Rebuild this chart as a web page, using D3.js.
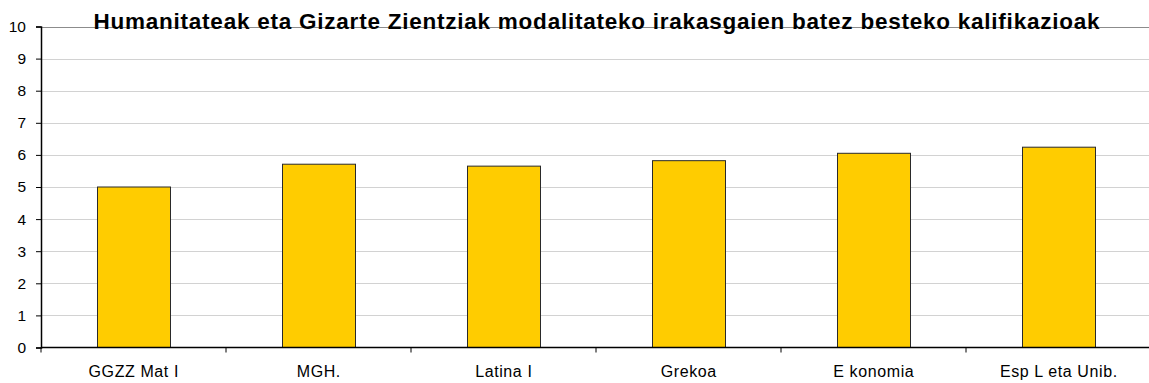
<!DOCTYPE html>
<html>
<head>
<meta charset="utf-8">
<script src="https://cdn.jsdelivr.net/npm/d3@7"></script>
<style>
  html, body { margin: 0; padding: 0; background: #fff; }
  svg { display: block; font-family: "Liberation Sans", Arial, sans-serif; }
</style>
</head>
<body>
<svg id="chart" width="1149" height="383"></svg>
<script>
const categories = ["GGZZ Mat I", "MGH.", "Latina I", "Grekoa", "E konomia", "Esp L eta Unib."];
const averages = [5.0, 5.71, 5.65, 5.82, 6.05, 6.24];
const yTicks = [0, 1, 2, 3, 4, 5, 6, 7, 8, 9, 10];
const title = "Humanitateak eta Gizarte Zientziak modalitateko irakasgaien batez besteko kalifikazioak";

const svg = d3.select("#chart");
const plotLeft = 41, plotRight = 1151, plotTop = 26.5, plotBottom = 347.5;

const x = d3.scaleBand().domain(categories).range([plotLeft, plotRight]).paddingInner(0.605).paddingOuter(0.3025);
const y = d3.scaleLinear().domain([0, 10]).range([plotBottom, plotTop]);

// horizontal gridlines (the top one doubles as the plot frame)
svg.append("g").selectAll("line").data(yTicks.filter(d => d > 0)).join("line")
  .attr("x1", plotLeft).attr("x2", plotRight)
  .attr("y1", d => Math.round(y(d)) + 0.5).attr("y2", d => Math.round(y(d)) + 0.5)
  .attr("stroke", d => d === 10 ? "#8c8c8c" : "#d2d2d2").attr("stroke-width", 1);

// bars
svg.append("g").selectAll("rect").data(categories).join("rect")
  .attr("x", d => Math.round(x(d)) + 0.5)
  .attr("y", (d, i) => y(averages[i]))
  .attr("width", Math.round(x.bandwidth()))
  .attr("height", (d, i) => plotBottom - y(averages[i]))
  .attr("fill", "#ffcc00").attr("stroke", "#2a2a2a").attr("stroke-width", 1);

// y axis
const yAxis = svg.append("g").attr("transform", `translate(${plotLeft},0)`)
  .call(d3.axisLeft(y).tickValues(yTicks).tickSize(5).tickPadding(10));
yAxis.select(".domain").attr("stroke", "#000").attr("stroke-width", 1.5);
yAxis.selectAll(".tick line").attr("stroke", "#000");
yAxis.selectAll("text").attr("font-size", 15.5).attr("fill", "#000")
  .attr("font-family", "Liberation Sans, Arial, sans-serif");

// x axis with ticks between categories
const xb = d3.scaleLinear().domain([0, categories.length]).range([plotLeft, plotRight]);
const xAxis = svg.append("g").attr("transform", `translate(0,${plotBottom})`);
xAxis.append("line").attr("x1", plotLeft).attr("x2", plotRight).attr("y1", 0).attr("y2", 0)
  .attr("stroke", "#000").attr("stroke-width", 1.5);
xAxis.selectAll("line.tk").data(d3.range(categories.length + 1)).join("line")
  .attr("class", "tk")
  .attr("x1", d => xb(d)).attr("x2", d => xb(d)).attr("y1", 0).attr("y2", 5)
  .attr("stroke", "#000");
xAxis.selectAll("text").data(categories).join("text")
  .attr("x", d => x(d) + x.bandwidth() / 2 + 0.3).attr("y", 29.5)
  .attr("text-anchor", "middle").attr("font-size", 16).attr("letter-spacing", 0.6)
  .attr("fill", "#000")
  .text(d => d);

// title
svg.append("text").attr("x", 93.5).attr("y", 29)
  .attr("text-anchor", "start").attr("font-size", 22.5).attr("font-weight", "bold")
  .attr("textLength", 1006).attr("lengthAdjust", "spacing")
  .attr("fill", "#000").text(title);
</script>
</body>
</html>
